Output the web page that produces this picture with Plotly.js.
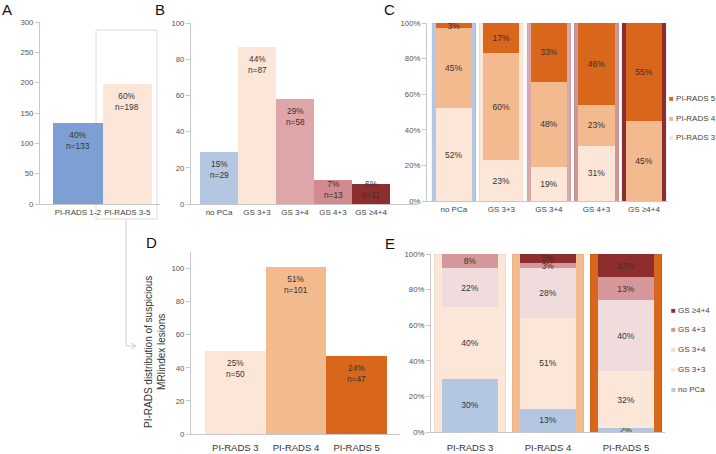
<!DOCTYPE html>
<html>
<head>
<meta charset="utf-8">
<script src="https://cdn.plot.ly/plotly-3.0.1.min.js"></script>
<style>html,body{margin:0;padding:0;background:#fff;}#chart{width:716px;height:454px;}</style>
</head>
<body>
<div id="chart"></div>
<script>
// ---------- DATA ----------
const catA = ['PI-RADS 1-2', 'PI-RADS 3-5'];
const valA = [133, 198];
const pctA = [40, 60];

const catB = ['no PCa', 'GS 3+3', 'GS 3+4', 'GS 4+3', 'GS ≥4+4'];
const valB = [29, 87, 58, 13, 11];
const pctB = [15, 44, 29, 7, 6];

const catC = ['no PCa', 'GS 3+3', 'GS 3+4', 'GS 4+3', 'GS ≥4+4'];
const cPR3 = [52, 23, 19, 31, 0];
const cPR4 = [45, 60, 48, 23, 45];
const cPR5 = [3, 17, 33, 46, 55];
const fullC = [100, 100, 100, 100, 100];

const catD = ['PI-RADS 3', 'PI-RADS 4', 'PI-RADS 5'];
const valD = [50, 101, 47];
const pctD = [25, 51, 24];

const catE = ['PI-RADS 3', 'PI-RADS 4', 'PI-RADS 5'];
const eNoPCa = [30, 13, 2];
const eGS33 = [40, 51, 32];
const eGS34 = [22, 28, 40];
const eGS43 = [8, 3, 13];
const eGS44 = [0, 5, 13];
const fullE = [100, 100, 100];

const ticksA = [0, 50, 100, 150, 200, 250, 300];
const ticks100 = [0, 20, 40, 60, 80, 100];
const ticksPct = ['0%', '20%', '40%', '60%', '80%', '100%'];

const legendC = ['PI-RADS 5', 'PI-RADS 4', 'PI-RADS 3'];
const legendE = ['GS ≥4+4', 'GS 4+3', 'GS 3+4', 'GS 3+3', 'no PCa'];

// ---------- STYLE ----------
const W = 716, H = 454;
const FONT = 'Liberation Sans, Arial, sans-serif';
const col = {
  blueA: '#7e9fd4', noPCa: '#b3c6e2', gs33: '#fce6d7',
  gs34B: '#dea6a8', gs43B: '#cf8b8e', gs44: '#8e2d2e',
  gs34C: '#d8a9ac', gs43C: '#cd979a',
  gs34E: '#f0dcdc', gs43E: '#d5979a',
  pr3: '#fce6d7', pr4: '#f3b98f', pr5: '#d8661b'
};
const dx = (a, b) => [a / W, b / W];
const dy = (top, bot) => [1 - bot / H, 1 - top / H];
const pxX = x => x / W, pxY = y => 1 - y / H;
const pctText = arr => arr.map(v => v > 0 ? v + '%' : '');

const tickFont = {family: FONT, size: 7.8, color: '#555'};
const xTickFont = {family: FONT, size: 8, color: '#444'};
const xTickFontBig = {family: FONT, size: 9.5, color: '#333'};
const barFont = {family: FONT, size: 8.3, color: '#333'};
const segFont = {family: FONT, size: 8.5, color: '#333'};

function yax(domain, range, extra) {
  return Object.assign({domain, range, showline: true, linecolor: '#c8c8c8', linewidth: 1,
    ticks: 'outside', ticklen: 4, tickcolor: '#c8c8c8', showgrid: false, zeroline: false,
    tickfont: tickFont, fixedrange: true, automargin: false}, extra || {});
}
function xax(domain, range, cats, extra) {
  return Object.assign({domain, range, type: 'category', categoryarray: cats, categoryorder: 'array',
    showline: true, linecolor: '#c8c8c8', linewidth: 1, ticks: '', showgrid: false, zeroline: false,
    tickangle: 0, tickfont: xTickFont, fixedrange: true, automargin: false}, extra || {});
}

const traces = [];
// Panel A
traces.push({type: 'bar', x: catA, y: valA, xaxis: 'x', yaxis: 'y', width: 1,
  marker: {color: [col.blueA, col.gs33]}, showlegend: false, hoverinfo: 'skip'});
// Panel B
traces.push({type: 'bar', x: catB, y: valB, xaxis: 'x2', yaxis: 'y2', width: 1,
  marker: {color: [col.noPCa, col.gs33, col.gs34B, col.gs43B, col.gs44]}, showlegend: false, hoverinfo: 'skip'});
// Panel C background
traces.push({type: 'bar', x: catC, y: fullC, xaxis: 'x3', yaxis: 'y3', width: 0.93,
  marker: {color: [col.noPCa, col.gs33, col.gs34C, col.gs43C, col.gs44], line: {color: 'rgba(0,0,0,0.08)', width: 0.6}},
  showlegend: false, hoverinfo: 'skip'});
// Panel C stacks
[[cPR3, col.pr3], [cPR4, col.pr4], [cPR5, col.pr5]].forEach(([v, c]) => {
  traces.push({type: 'bar', x: catC, y: v, xaxis: 'x4', yaxis: 'y4', width: 0.76,
    marker: {color: c}, text: pctText(v), textposition: 'inside', insidetextanchor: 'middle',
    textangle: 0, constraintext: 'none', textfont: segFont, showlegend: false, hoverinfo: 'skip'});
});
// Panel D
traces.push({type: 'bar', x: catD, y: valD, xaxis: 'x5', yaxis: 'y5', width: 1,
  marker: {color: [col.pr3, col.pr4, col.pr5]}, showlegend: false, hoverinfo: 'skip'});
// Panel E background
traces.push({type: 'bar', x: catE, y: fullE, xaxis: 'x6', yaxis: 'y6', width: 0.92,
  marker: {color: [col.pr3, col.pr4, col.pr5], line: {color: 'rgba(0,0,0,0.08)', width: 0.6}},
  showlegend: false, hoverinfo: 'skip'});
[[eNoPCa, col.noPCa], [eGS33, col.gs33], [eGS34, col.gs34E], [eGS43, col.gs43E], [eGS44, col.gs44]].forEach(([v, c]) => {
  traces.push({type: 'bar', x: catE, y: v, xaxis: 'x7', yaxis: 'y7', width: 0.72,
    marker: {color: c}, text: pctText(v), textposition: 'inside', insidetextanchor: 'middle',
    textangle: 0, constraintext: 'none', textfont: segFont, showlegend: false, hoverinfo: 'skip'});
});

// Annotations
const annotations = [];
// bar value labels placed through the data axes (kept clear of the baseline for short bars)
function barLabels(cats, vals, pcts, xr, yr, minY) {
  cats.forEach((c, i) => annotations.push({xref: xr, yref: yr, x: c, y: Math.max(vals[i], minY), yanchor: 'top', xanchor: 'center',
    yshift: -5, showarrow: false, text: pcts[i] + '%<br>n=' + vals[i], font: barFont}));
}
barLabels(catA, valA, pctA, 'x', 'y', 0);
barLabels(catB, valB, pctB, 'x2', 'y2', 17.5);
barLabels(catD, valD, pctD, 'x5', 'y5', 0);

const letter = (t, x, y) => ({text: t, x: pxX(x), y: pxY(y), xref: 'paper', yref: 'paper', xanchor: 'center', yanchor: 'middle',
  showarrow: false, font: {family: FONT, size: 15, color: '#111'}});
annotations.push(letter('A', 7, 9), letter('B', 160, 9), letter('C', 390, 10), letter('D', 151, 242), letter('E', 390, 244));
annotations.push({text: 'PI-RADS distribution of suspicious<br>MRIindex lesions', x: pxX(155), y: pxY(352), xref: 'paper', yref: 'paper',
  xanchor: 'center', yanchor: 'middle', showarrow: false, textangle: -90, font: {family: FONT, size: 10, color: '#333'}});

// Legend entries as annotations (compact symbol + label, like the reference)
const legCcol = [col.pr5, col.pr4, col.pr3];
const legEcol = [col.gs44, col.gs43E, col.gs34E, col.gs33, col.noPCa];
const legAnn = (name, c, x, y) => ({text: '<span style="color:' + c + '">■</span> ' + name,
  x: pxX(x), y: pxY(y), xref: 'paper', yref: 'paper', xanchor: 'left', yanchor: 'middle', showarrow: false,
  font: {family: FONT, size: 8, color: '#444'}});
const legCy = [98, 118, 137];
legendC.forEach((n, i) => annotations.push(legAnn(n, legCcol[i], 667, legCy[i])));
const legEy = [310, 329, 349, 369, 389];
legendE.forEach((n, i) => annotations.push(legAnn(n, legEcol[i], 669, legEy[i])));

const pctAxis = {tickvals: ticks100, ticktext: ticksPct};
const layout = {
  width: W, height: H, margin: {l: 0, r: 0, t: 0, b: 0},
  paper_bgcolor: '#fff', plot_bgcolor: 'rgba(0,0,0,0)',
  barmode: 'stack', bargap: 0, showlegend: false,
  font: {family: FONT, size: 9, color: '#333'},
  xaxis: xax(dx(40, 160), [-0.763, 1.662], catA, {anchor: 'y'}),
  yaxis: yax(dy(22, 204), [0, 300], {anchor: 'x', tickvals: ticksA}),
  xaxis2: xax(dx(191, 418), [-0.737, 5.237], catB, {anchor: 'y2'}),
  yaxis2: yax(dy(23, 204), [0, 100], {anchor: 'x2', tickvals: ticks100}),
  xaxis3: xax(dx(427, 668), [-0.563, 4.505], catC, {anchor: 'y3'}),
  yaxis3: yax(dy(23, 201), [0, 100], Object.assign({anchor: 'x3'}, pctAxis)),
  xaxis4: {overlaying: 'x3', anchor: 'y4', type: 'category', categoryarray: catC, categoryorder: 'array', range: [-0.563, 4.505], visible: false, fixedrange: true},
  yaxis4: {overlaying: 'y3', anchor: 'x4', range: [0, 100], visible: false, fixedrange: true},
  xaxis5: xax(dx(191, 400), [-0.731, 2.715], catD, {anchor: 'y5', tickfont: xTickFontBig, ticklabelstandoff: 5}),
  yaxis5: yax(dy(252, 434), [0, 110], {anchor: 'x5', tickvals: ticks100}),
  xaxis6: xax(dx(431, 665), [-0.5, 2.5], catE, {anchor: 'y6', tickfont: xTickFontBig, ticklabelstandoff: 7}),
  yaxis6: yax(dy(254, 432), [0, 100], Object.assign({anchor: 'x6'}, pctAxis)),
  xaxis7: {overlaying: 'x6', anchor: 'y7', type: 'category', categoryarray: catE, categoryorder: 'array', range: [-0.5, 2.5], visible: false, fixedrange: true},
  yaxis7: {overlaying: 'y6', anchor: 'x7', range: [0, 100], visible: false, fixedrange: true},
  annotations: annotations,
  shapes: [
    {type: 'rect', xref: 'paper', yref: 'paper', x0: pxX(96), x1: pxX(157), y0: pxY(219), y1: pxY(30),
      line: {color: '#dcdcdc', width: 1}, layer: 'below'},
    {type: 'path', xref: 'paper', yref: 'paper',
      path: 'M' + pxX(126) + ',' + pxY(219) + ' L' + pxX(126) + ',' + pxY(346) + ' L' + pxX(136) + ',' + pxY(346) +
            ' M' + pxX(131) + ',' + pxY(343) + ' L' + pxX(136) + ',' + pxY(346) + ' L' + pxX(131) + ',' + pxY(349),
      line: {color: '#cfcfcf', width: 1}}
  ]
};

Plotly.newPlot('chart', traces, layout, {staticPlot: true, displayModeBar: false});
</script>
</body>
</html>
